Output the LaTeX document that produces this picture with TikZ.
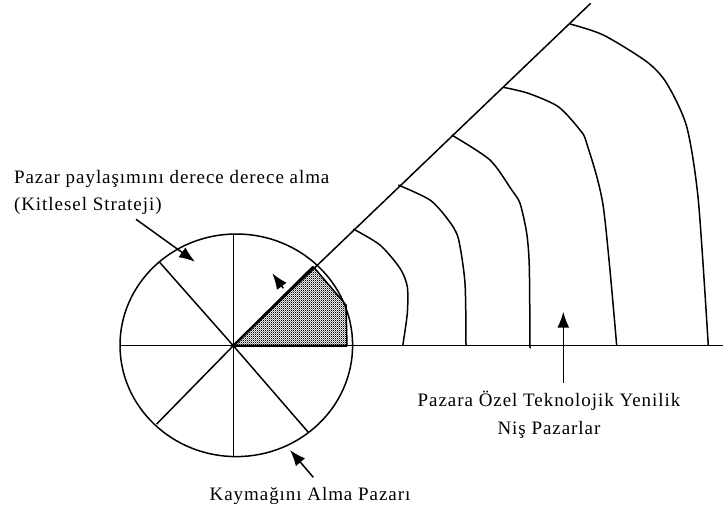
\documentclass[tikz,border=0pt]{standalone}
\usepackage{fontspec}
\setmainfont{Liberation Serif}[LetterSpace=5]
\usetikzlibrary{arrows.meta,patterns}
\pgfdeclarepatternformonly{finedots}{\pgfpointorigin}{\pgfqpoint{2.2pt}{2.2pt}}{\pgfqpoint{2.2pt}{2.2pt}}{%
  \pgfpathrectangle{\pgfpointorigin}{\pgfqpoint{1.1pt}{1.1pt}}%
  \pgfpathrectangle{\pgfqpoint{1.1pt}{1.1pt}}{\pgfqpoint{1.1pt}{1.1pt}}%
  \pgfusepath{fill}}

\begin{document}
\begin{tikzpicture}[x=1pt,y=-1pt,line width=1.5pt,
  pointer/.style={-{Latex[length=16pt,width=12pt]}},
  lbl/.style={inner sep=0pt,font=\fontsize{19}{27.5}\selectfont}]
\path[use as bounding box] (0,0) rectangle (723,509);
% pie
\coordinate (o) at (233.3,345.7);
\coordinate (w) at (120,345.7);
\coordinate (e) at (723,345.7);
\coordinate (n) at (233.3,234);
\coordinate (s) at (233.3,456.7);
\coordinate (nw) at (160,262.7);
\coordinate (sw) at (156.7,424);
\coordinate (se) at (308.3,432.3);
\coordinate (ne) at (590.7,3.3);
\draw (236.3,345.3) ellipse [x radius=116.3, y radius=111.3];
\draw (w) -- (e);
\draw (n) -- (s);
\draw (nw) -- (o) -- (se);
\draw (sw) -- (o) -- (ne);
% shaded slice
\coordinate (p1) at (313.3,266.7);
\coordinate (p2) at (346,305);
\coordinate (p3) at (347,345.7);
\fill[pattern=finedots] (o) -- (p1) -- (p2) -- (p3) -- cycle;
\draw[line width=2.4pt] (p3) -- (o) -- (p1);
\draw (p1) -- (p2) -- (p3);
% rings
\draw plot[smooth,tension=0.45] coordinates {(353.3,229) (380,245) (400,268.3) (407.3,286.7) (407.3,313.3) (402.7,346)};
\draw plot[smooth,tension=0.45] coordinates {(398.3,185) (430,200) (448.3,220) (458.3,238.3) (465,283.3) (466,346)};
\draw plot[smooth,tension=0.45] coordinates {(451.7,135) (490,160) (511.7,190) (520,203.3) (526.7,233.3) (529.3,266.7) (530,348.3)};
\draw plot[smooth,tension=0.45] coordinates {(503.3,87.3) (528.3,93.3) (558.3,106.7) (580,130) (586.7,143.3) (603.3,206.7) (616.7,345.7)};
\draw plot[smooth,tension=0.45] coordinates {(570,24) (603.3,35) (646.7,61.7) (666.7,83.3) (686.7,126.7) (698.3,200) (708.3,345.7)};
% labels
\node[lbl,anchor=base west,align=left] (pazar) at (13.3,210.7) {Pazar paylaşımını derece derece alma\\(Kitlesel Strateji)};
\node[lbl,anchor=base,align=center] (nis) at (549,434) {Pazara Özel Teknolojik Yenilik\\Niş Pazarlar};
\node[lbl,anchor=base] (kaymak) at (310,500.7) {Kaymağını Alma Pazarı};
% arrows
\coordinate (t1) at (136,219.3);
\coordinate (h1) at (195,261.7);
\coordinate (t2) at (283.3,288.3);
\coordinate (h2) at (272.3,273.3);
\coordinate (t3) at (563.3,383.3);
\coordinate (h3) at (563.3,311.7);
\coordinate (t4) at (313.3,477.3);
\coordinate (h4) at (290,450);
\draw[pointer] (t1) -- (h1);
\draw[pointer] (t2) -- (h2);
\draw[pointer] (t3) -- (h3);
\draw[pointer] (t4) -- (h4);
\end{tikzpicture}
\end{document}
